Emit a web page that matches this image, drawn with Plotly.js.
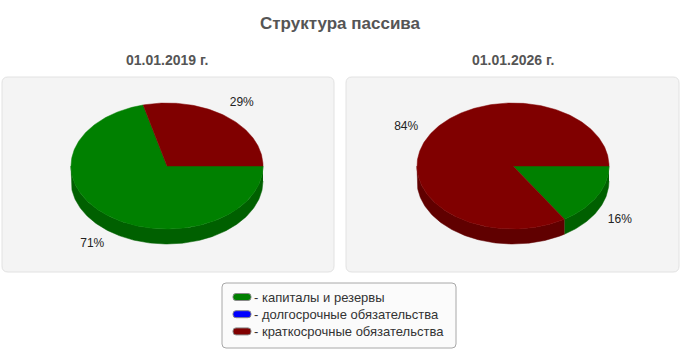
<!DOCTYPE html>
<html>
<head>
<meta charset="utf-8">
<script src="https://cdn.plot.ly/plotly-3.0.1.min.js"></script>
<style>html,body{margin:0;padding:0;background:#fff;}#chart{width:680px;height:350px;}</style>
</head>
<body>
<div id="chart"></div>
<script>
// ---- data ----
const chartTitle = 'Структура пассива';
const categories = ['- капиталы и резервы', '- долгосрочные обязательства', '- краткосрочные обязательства'];
const dates = ['01.01.2019 г.', '01.01.2026 г.'];
const values2019 = [71, 0, 29];
const values2026 = [16, 0, 84];
const topColors = ['#008000', '#0000ff', '#800000'];
const sideColors = ['#006000', '#0000b0', '#600000'];

// ---- layout constants ----
const RX = 96, RY = 63, DEPTH = 15;
const pies = [
  {cx: 167, cy: 166, values: values2019, title: dates[0], panel: [2, 77, 334, 272]},
  {cx: 513, cy: 166, values: values2026, title: dates[1], panel: [346, 77, 679, 272]}
];
const legendBox = [222, 283, 456, 348];
const FONT = 'Liberation Sans, Arial, sans-serif';

function arc(cx, cy, t1, t2, dy) {
  const xs = [], ys = [];
  const n = Math.max(2, Math.ceil(Math.abs(t2 - t1) / (Math.PI / 180)));
  for (let k = 0; k <= n; k++) {
    const t = t1 + (t2 - t1) * k / n;
    xs.push(cx + RX * Math.cos(t));
    ys.push(cy + RY * Math.sin(t) + dy);
  }
  return [xs, ys];
}

function roundRect(x0, y0, x1, y1, r) {
  return 'M' + (x0 + r) + ',' + y0 + ' L' + (x1 - r) + ',' + y0 + ' Q' + x1 + ',' + y0 + ' ' + x1 + ',' + (y0 + r) +
    ' L' + x1 + ',' + (y1 - r) + ' Q' + x1 + ',' + y1 + ' ' + (x1 - r) + ',' + y1 +
    ' L' + (x0 + r) + ',' + y1 + ' Q' + x0 + ',' + y1 + ' ' + x0 + ',' + (y1 - r) +
    ' L' + x0 + ',' + (y0 + r) + ' Q' + x0 + ',' + y0 + ' ' + (x0 + r) + ',' + y0 + ' Z';
}

const sideTraces = [], topTraces = [], labelTraces = [];
pies.forEach(function (p) {
  const total = p.values.reduce(function (a, b) { return a + b; }, 0);
  let a = 0;
  const lx = [], ly = [], lt = [];
  p.values.forEach(function (v, i) {
    const span = v / total * 2 * Math.PI;
    const a1 = a, a2 = a + span;
    a = a2;
    if (v <= 0) return;
    const s = Math.max(a1, 0), e = Math.min(a2, Math.PI);
    if (e > s) {
      const top = arc(p.cx, p.cy, s, e, 0);
      const bot = arc(p.cx, p.cy, e, s, DEPTH);
      sideTraces.push({
        type: 'scatter', mode: 'lines', fill: 'toself',
        x: top[0].concat(bot[0]), y: top[1].concat(bot[1]),
        fillcolor: sideColors[i], line: {color: sideColors[i], width: 0.5},
        name: categories[i], hoverinfo: 'skip', showlegend: false
      });
    }
    const ar = arc(p.cx, p.cy, a1, a2, 0);
    topTraces.push({
      type: 'scatter', mode: 'lines', fill: 'toself',
      x: [p.cx].concat(ar[0]).concat([p.cx]),
      y: [p.cy].concat(ar[1]).concat([p.cy]),
      fillcolor: topColors[i], line: {color: topColors[i], width: 0.5},
      name: categories[i], hoverinfo: 'skip', showlegend: false
    });
    const mid = (a1 + a2) / 2;
    lx.push(p.cx + 1.27 * RX * Math.cos(mid));
    ly.push(p.cy + 1.27 * RY * Math.sin(mid) + (Math.sin(mid) > 0 ? DEPTH : 0));
    lt.push(Math.round(v / total * 100) + '%');
  });
  labelTraces.push({
    type: 'scatter', mode: 'text', x: lx, y: ly, text: lt,
    textfont: {family: FONT, size: 12, color: '#222'},
    hoverinfo: 'skip', showlegend: false
  });
});

const shapes = pies.map(function (p) {
  const [x0, y0, x1, y1] = p.panel;
  return {type: 'path', xref: 'x', yref: 'y', layer: 'below', path: roundRect(x0, y0, x1, y1, 6),
          fillcolor: '#f4f4f4', line: {color: '#e2e2e2', width: 1}};
});
shapes.push({type: 'path', xref: 'x', yref: 'y', layer: 'below',
             path: roundRect(legendBox[0], legendBox[1], legendBox[2], legendBox[3], 4),
             fillcolor: '#fbfbfb', line: {color: '#a8a8a8', width: 1}});

const annotations = pies.map(function (p) {
  return {xref: 'x', yref: 'y', x: p.cx, y: 60, text: '<b>' + p.title + '</b>', showarrow: false,
          font: {family: FONT, size: 14, color: '#555'}, xanchor: 'center', yanchor: 'middle'};
});

// legend (manual)
categories.forEach(function (c, i) {
  const yc = 297 + i * 17.2;
  shapes.push({type: 'path', xref: 'x', yref: 'y', path: roundRect(233, yc - 3.5, 251, yc + 3.5, 3),
               fillcolor: topColors[i], line: {color: '#888', width: 1}});
  annotations.push({xref: 'x', yref: 'y', x: 252, y: yc, text: c, showarrow: false,
                    xanchor: 'left', yanchor: 'middle', font: {family: FONT, size: 13, color: '#333'}});
});

const layout = {
  width: 680, height: 350,
  margin: {l: 0, r: 0, t: 0, b: 0},
  paper_bgcolor: '#ffffff', plot_bgcolor: 'rgba(0,0,0,0)',
  title: {text: '<b>' + chartTitle + '</b>', x: 0.5, xanchor: 'center', y: 1 - 23 / 350, yanchor: 'middle',
          font: {family: FONT, size: 17, color: '#555'}},
  xaxis: {range: [0, 680], visible: false, fixedrange: true},
  yaxis: {range: [350, 0], visible: false, fixedrange: true},
  shapes: shapes,
  annotations: annotations,
  showlegend: false
};

Plotly.newPlot('chart', sideTraces.concat(topTraces, labelTraces), layout, {staticPlot: true});
</script>
</body>
</html>
